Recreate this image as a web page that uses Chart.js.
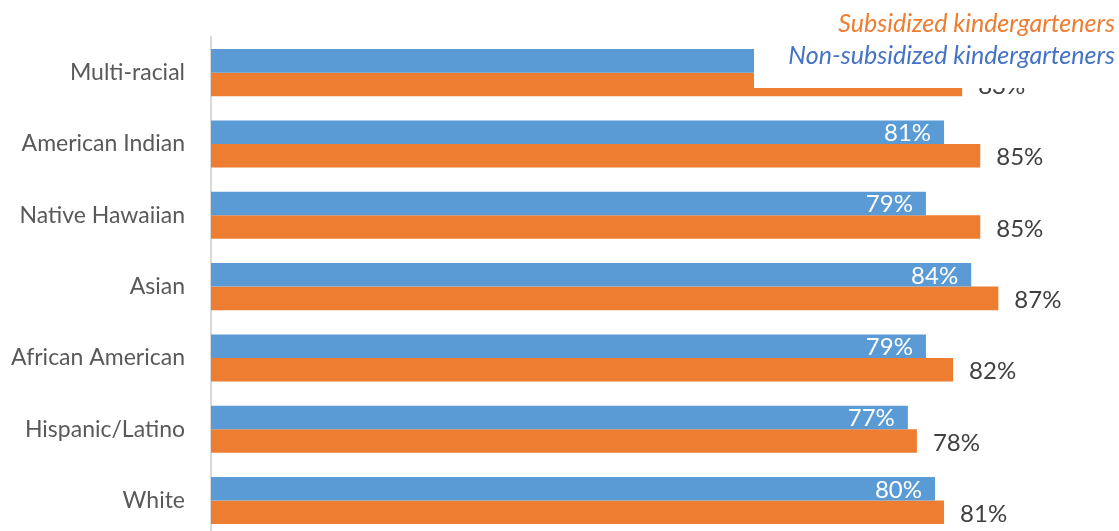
<!DOCTYPE html>
<html>
<head>
<meta charset="utf-8">
<script src="https://cdn.jsdelivr.net/npm/chart.js@4.4.1/dist/chart.umd.min.js"></script>
<style>
  html, body { margin: 0; padding: 0; background: #fff; overflow: hidden; }
  canvas { display: block; }
</style>
</head>
<body>
<canvas id="myChart-kinder" width="1119" height="568"></canvas>
<script>
const groups = ["Multi-racial", "American Indian", "Native Hawaiian", "Asian", "African American", "Hispanic/Latino", "White"];
const nonSubsidized = [78, 81, 79, 84, 79, 77, 80];
const subsidized = [83, 85, 85, 87, 82, 78, 81];
const legendLabels = ["Subsidized kindergarteners", "Non-subsidized kindergarteners"];

const blue = "#5B9BD5";
const orange = "#ED7D31";
const fontFam = "Lato, 'Open Sans', sans-serif";

// value labels: white inside the blue bars, dark grey past the orange ones
const barLabels = {
    id: "barLabels",
    afterDatasetsDraw(chart) {
        const ctx = chart.ctx;
        ctx.save();
        ctx.font = "24px " + fontFam;
        ctx.textBaseline = "middle";
        chart.data.datasets.forEach((ds, i) => {
            chart.getDatasetMeta(i).data.forEach((bar, j) => {
                const txt = ds.data[j] + "%";
                if (i === 0) {
                    ctx.fillStyle = "#fff";
                    ctx.textAlign = "right";
                    ctx.fillText(txt, bar.x - 13, bar.y + 1);
                } else {
                    ctx.fillStyle = "#404040";
                    ctx.textAlign = "left";
                    ctx.fillText(txt, bar.x + 16, bar.y + 2);
                }
            });
        });
        ctx.restore();
    }
};

// legend sits on a white box over the top right corner
const cornerLegend = {
    id: "cornerLegend",
    afterDraw(chart) {
        const ctx = chart.ctx;
        ctx.save();
        ctx.fillStyle = "#fff";
        ctx.fillRect(754, 0, chart.width - 754, 88);
        ctx.font = "italic 25px " + fontFam;
        ctx.textAlign = "right";
        ctx.textBaseline = "middle";
        ctx.fillStyle = orange;
        ctx.fillText(legendLabels[0], 1115, 24);
        ctx.fillStyle = "#4472C4";
        ctx.fillText(legendLabels[1], 1115, 56);
        ctx.restore();
    }
};

new Chart(document.getElementById("myChart-kinder"), {
    type: "bar",
    data: {
        labels: groups,
        datasets: [{
            label: legendLabels[1],
            data: nonSubsidized,
            backgroundColor: blue,
            categoryPercentage: 0.66,
            barPercentage: 1.0
        }, {
            label: legendLabels[0],
            data: subsidized,
            backgroundColor: orange,
            categoryPercentage: 0.66,
            barPercentage: 1.0
        }]
    },
    options: {
        indexAxis: "y",
        responsive: false,
        animation: false,
        layout: { padding: { top: 37, bottom: 9, right: 3, left: 0 } },
        plugins: {
            legend: { display: false },
            tooltip: { enabled: false }
        },
        scales: {
            x: {
                min: 0,
                max: 100,
                display: false
            },
            y: {
                afterFit: (scale) => { scale.width = 211; },
                grid: { display: false },
                border: { display: true, color: "#d9d9d9", width: 2 },
                ticks: {
                    color: "#595959",
                    padding: 18,
                    font: { family: fontFam, size: 23 }
                }
            }
        }
    },
    plugins: [barLabels, cornerLegend]
});
</script>
</body>
</html>
